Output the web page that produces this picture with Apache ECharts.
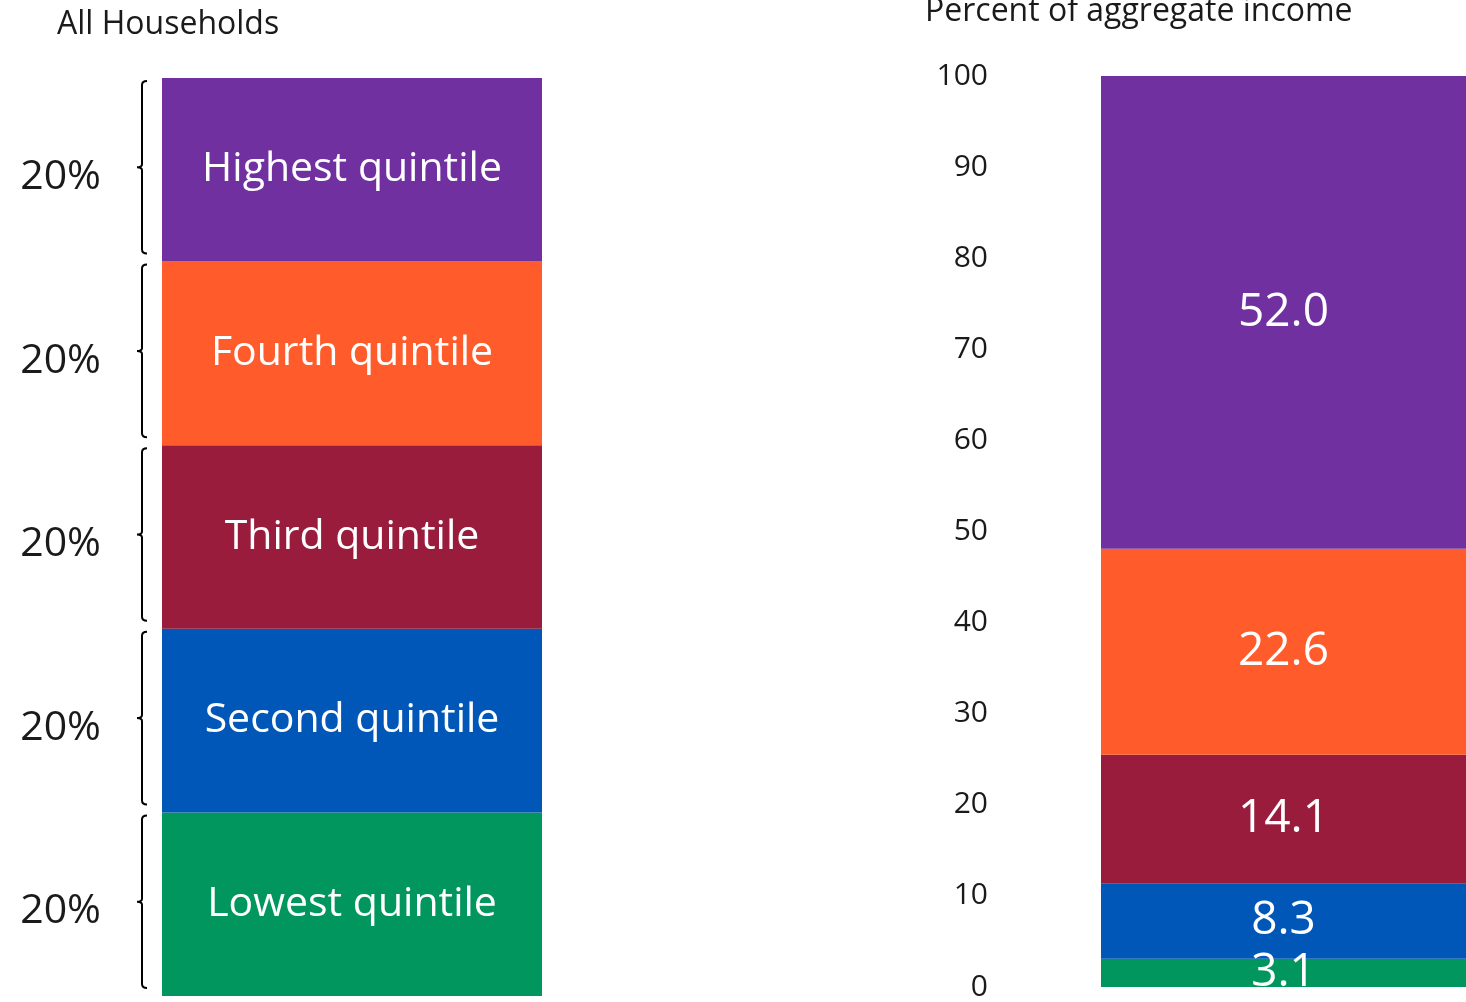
<!DOCTYPE html>
<html><head><meta charset="utf-8">
<script src="https://cdn.jsdelivr.net/npm/echarts@6/dist/echarts.min.js"></script>
<style>html,body{margin:0;padding:0;background:#fff}#c{width:1466px;height:1002px}</style>
</head><body><div id="c"></div>
<script>
const quintiles = ['Lowest quintile','Second quintile','Third quintile','Fourth quintile','Highest quintile'];
const householdShares = [20, 20, 20, 20, 20];
const incomeShares = [3.1, 8.3, 14.1, 22.6, 52.0];
const shareLabels = ['20%','20%','20%','20%','20%'];
const incomeTicks = [0,10,20,30,40,50,60,70,80,90,100];
const colors = ['#00965E','#0057B8','#991C3D','#FF5B2B','#7030A0'];
const FONT = '"Open Sans", sans-serif';

const series = [];
quintiles.forEach((q, i) => {
  series.push({
    type: 'bar', name: q, stack: 'hh', xAxisIndex: 0, yAxisIndex: 0,
    barWidth: '100%', data: [householdShares[i]],
    itemStyle: { color: colors[i] },
    label: { show: true, position: 'inside', formatter: q, color: '#fff', fontSize: 41, fontFamily: FONT },
    silent: true
  });
  series.push({
    type: 'bar', name: q + ' income', stack: 'inc', xAxisIndex: 1, yAxisIndex: 1,
    barWidth: '100%', data: [incomeShares[i]],
    itemStyle: { color: colors[i] },
    label: { show: true, position: 'inside', formatter: p => incomeShares[i].toFixed(1), color: '#fff', fontSize: 46, fontFamily: FONT },
    silent: true
  });
});

let acc = 0;
const braceData = householdShares.map((v, i) => { const d = [0, acc, acc + v, shareLabels[i]]; acc += v; return d; });

series.push({
  type: 'custom', xAxisIndex: 0, yAxisIndex: 0, silent: true,
  data: braceData,
  renderItem: function (params, api) {
    const c0 = api.coord([api.value(0), api.value(1)]);
    const c1 = api.coord([api.value(0), api.value(2)]);
    const band = api.size([1, 0])[0];
    const left = c0[0] - band / 2;
    const bx = left - 20;
    const yb = c0[1] - 8, yt = c1[1] + 3;
    const ym = (yb + yt) / 2;
    const path = `M${bx+5},${yt} Q${bx},${yt} ${bx},${yt+4} L${bx},${ym-3} Q${bx},${ym} ${bx-5},${ym} Q${bx},${ym} ${bx},${ym+3} L${bx},${yb-4} Q${bx},${yb} ${bx+5},${yb}`;
    return {
      type: 'group',
      children: [
        { type: 'path', shape: { pathData: path }, style: { fill: 'none', stroke: '#000', lineWidth: 2 } },
        { type: 'text', style: { text: braceData[params.dataIndex][3], x: bx - 41, y: ym + 10, align: 'right', verticalAlign: 'middle', fontSize: 41, fontFamily: FONT, fill: '#1a1a1a' } }
      ]
    };
  }
});

const chart = echarts.init(document.getElementById('c'));
chart.setOption({
  animation: false,
  backgroundColor: '#fff',
  title: [
    { text: 'All Households', left: 52, top: 4, textStyle: { fontSize: 32, fontWeight: 'normal', color: '#1a1a1a', fontFamily: FONT } },
    { text: 'Percent of aggregate income', left: 920, top: -9, textStyle: { fontSize: 32, fontWeight: 'normal', color: '#1a1a1a', fontFamily: FONT } }
  ],
  grid: [
    { left: 162, width: 380, top: 78, bottom: 6 },
    { left: 1101, right: 0, top: 76, bottom: 14 }
  ],
  xAxis: [
    { type: 'category', gridIndex: 0, data: ['All'], show: false },
    { type: 'category', gridIndex: 1, data: ['Income'], show: false }
  ],
  yAxis: [
    { type: 'value', gridIndex: 0, min: 0, max: 100, show: false },
    { type: 'value', gridIndex: 1, min: 0, max: 100, interval: 10,
      axisLine: { show: false }, axisTick: { show: false }, splitLine: { show: false },
      axisLabel: { margin: 113, fontSize: 30, color: '#1a1a1a', fontFamily: FONT,
        formatter: v => incomeTicks.includes(v) ? String(v) : '' } }
  ],
  series: series
});
</script></body></html>
